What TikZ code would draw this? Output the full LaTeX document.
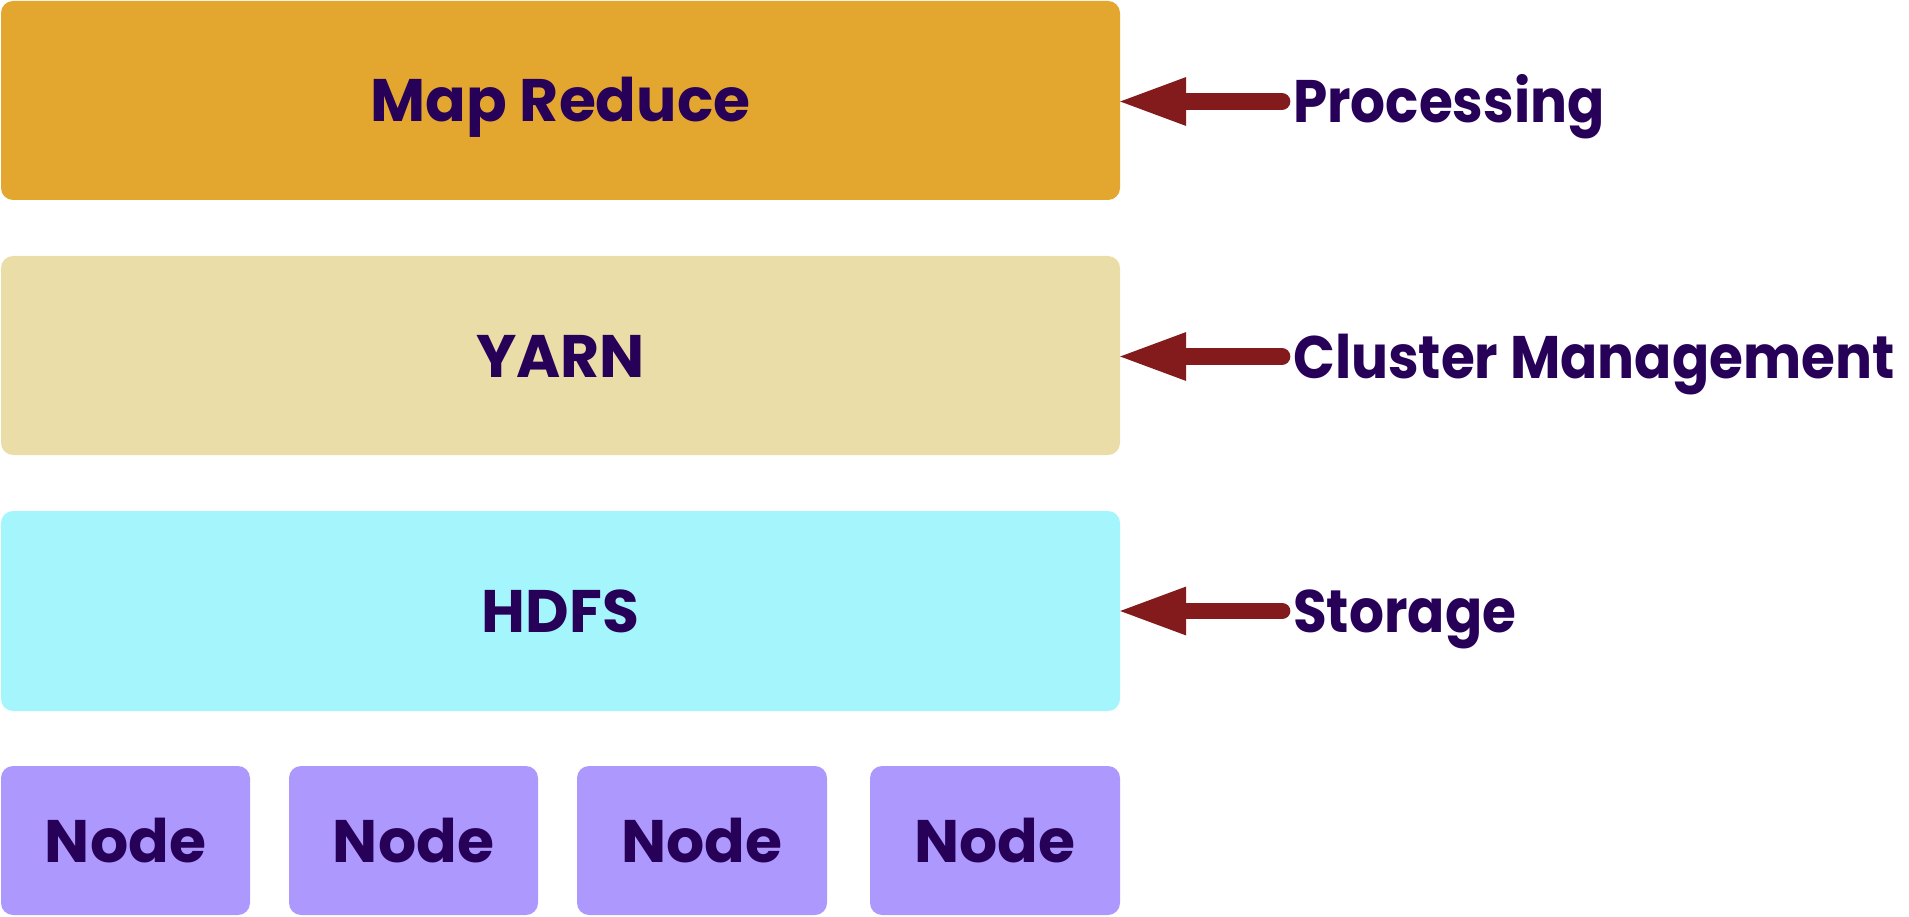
\documentclass[tikz,border=0pt]{standalone}
\usepackage{fontspec}
\setmainfont{Poppins}
\usetikzlibrary{arrows.meta}
\definecolor{mrfill}{HTML}{E3A730}
\definecolor{yarnfill}{HTML}{EBDDA8}
\definecolor{hdfsfill}{HTML}{A4F6FC}
\definecolor{nodefill}{HTML}{AD99FD}
\definecolor{arrowc}{HTML}{831A1C}
\definecolor{textc}{HTML}{270058}
\newcommand{\squeeze}[1]{\scalebox{0.915}[1]{#1}}
\tikzset{
  txt/.style={text=textc, font=\fontsize{60}{60}\selectfont\bfseries, text height=43pt, text depth=0pt, inner sep=0pt},
  layer/.style={txt, rounded corners=12pt, minimum width=1119pt},
  hnode/.style={txt, rounded corners=12pt, fill=nodefill, minimum height=149pt},
  lbl/.style={txt, anchor=west},
  pointer/.style={draw=arrowc, line width=16.7pt, line cap=round, -{Triangle[length=66pt,width=49pt,line width=0pt]}},
}
\begin{document}
\begin{tikzpicture}[x=1pt,y=-1pt]
\useasboundingbox (0,0) rectangle (1909,917);
\node[layer, fill=mrfill, minimum height=199pt] (mr) at (560.5,100.5) {Map Reduce};
\node[layer, fill=yarnfill, minimum height=199pt] (yarn) at (560.5,355.5) {YARN};
\node[layer, fill=hdfsfill, minimum height=200pt] (hdfs) at (560.5,611) {HDFS};
\node[hnode, minimum width=249pt] (n1) at (125.5,840.5) {Node};
\node[hnode, minimum width=249pt] (n2) at (413.5,840.5) {Node};
\node[hnode, minimum width=250pt] (n3) at (702,840.5) {Node};
\node[hnode, minimum width=250pt] (n4) at (995,840.5) {Node};
\node[lbl] (lp) at (1293,101.5) {\squeeze{Processing}};
\node[lbl] (lc) at (1293,356.5) {\squeeze{Cluster Management}};
\node[lbl] (ls) at (1293,611) {\squeeze{Storage}};
\coordinate (sp) at (1282,101.5);
\coordinate (sc) at (1282,356.5);
\coordinate (ss) at (1282,611);
\draw[pointer] (sp) -- (mr.east |- sp);
\draw[pointer] (sc) -- (yarn.east |- sc);
\draw[pointer] (ss) -- (hdfs.east |- ss);
\end{tikzpicture}
\end{document}
